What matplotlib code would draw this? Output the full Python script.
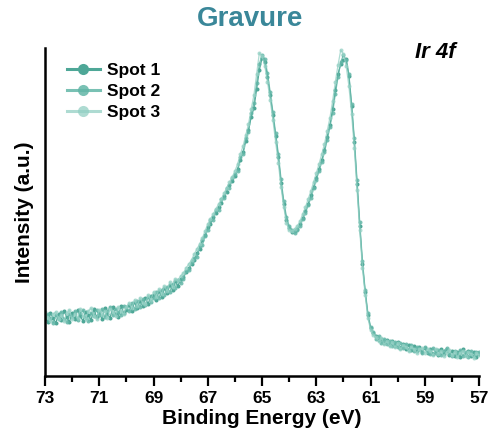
"""
plot.py

Ir 4f XPS spectra (gravure, three spots) redrawn with matplotlib.
Saves the figure as out.png.
"""

import numpy as np
import matplotlib
matplotlib.use("Agg")
import matplotlib.pyplot as plt
from matplotlib.lines import Line2D

plt.rcParams["font.family"] = ["Liberation Sans", "DejaVu Sans"]
plt.rcParams["font.weight"] = "bold"

# binding energy grid, 73.0 -> 57.0 eV in 0.1 eV steps
binding_energy = np.round(np.linspace(73.0, 57.0, 161), 1)

spot1 = [
    60, 54, 63, 58, 53, 62, 56, 65, 59, 54,
    63, 57, 66, 60, 55, 64, 61, 56, 67, 59,
    64, 57, 68, 62, 58, 69, 62, 59, 70, 63,
    66, 71, 65, 74, 68, 75, 70, 78, 72, 80,
    81, 76, 85, 79, 88, 83, 91, 86, 95, 90,
    97, 99, 104, 108, 112, 116, 123, 127, 136, 141,
    149, 152, 159, 163, 169, 173, 180, 184, 191, 195,
    200, 207, 216, 224, 235, 246, 259, 268, 287, 306,
    318, 314, 299, 281, 261, 240, 219, 193, 172, 156,
    148, 144, 145, 147, 152, 158, 165, 172, 181, 189,
    198, 207, 216, 226, 239, 251, 267, 286, 302, 312,
    316, 317, 300, 270, 234, 192, 150, 112, 84, 61,
    48, 43, 40, 36, 37, 33, 36, 31, 35, 30,
    34, 28, 32, 27, 31, 26, 30, 25, 29, 24,
    28, 23, 27, 22, 26, 21, 27, 22, 26, 21,
    25, 20, 24, 19, 27, 21, 25, 20, 24, 19, 22,
]

spot2 = [
    57, 62, 58, 53, 61, 57, 64, 57, 54, 62,
    59, 65, 56, 63, 66, 58, 55, 63, 60, 66,
    61, 67, 59, 65, 69, 61, 67, 64, 61, 70,
    69, 65, 73, 67, 75, 69, 77, 71, 79, 74,
    78, 84, 78, 86, 81, 89, 84, 92, 88, 96,
    93, 97, 105, 106, 114, 118, 119, 130, 131, 140,
    146, 156, 156, 166, 166, 177, 178, 188, 188, 198,
    202, 205, 219, 222, 238, 244, 263, 273, 293, 312,
    321, 317, 303, 284, 264, 243, 222, 197, 175, 159,
    150, 146, 143, 146, 150, 157, 163, 171, 178, 188,
    196, 205, 214, 224, 236, 249, 263, 282, 299, 314,
    321, 316, 302, 272, 238, 196, 154, 115, 86, 63,
    49, 44, 37, 40, 33, 37, 32, 35, 30, 34,
    29, 33, 28, 32, 26, 31, 25, 29, 27, 23,
    29, 24, 22, 28, 23, 26, 21, 25, 28, 22,
    20, 25, 21, 26, 20, 24, 19, 25, 20, 24, 24,
]

spot3 = [
    64, 58, 55, 62, 64, 57, 61, 55, 63, 66,
    57, 62, 58, 67, 60, 57, 65, 68, 60, 57,
    66, 61, 65, 58, 67, 64, 60, 69, 65, 62,
    69, 73, 68, 76, 70, 78, 73, 72, 81, 76,
    84, 79, 87, 82, 90, 85, 94, 89, 97, 96,
    100, 103, 108, 112, 116, 122, 127, 132, 138, 145,
    152, 157, 162, 167, 172, 177, 183, 188, 194, 199,
    205, 212, 222, 230, 241, 252, 267, 281, 302, 323,
    320, 310, 294, 276, 256, 234, 213, 189, 169, 153,
    146, 145, 147, 150, 155, 162, 169, 177, 185, 194,
    203, 212, 222, 232, 245, 258, 275, 294, 311, 326,
    322, 310, 290, 262, 228, 186, 146, 108, 81, 58,
    46, 41, 39, 35, 38, 32, 35, 30, 34, 29,
    33, 27, 31, 29, 25, 29, 27, 23, 27, 28,
    23, 27, 25, 21, 27, 22, 25, 20, 24, 26,
    21, 24, 19, 23, 25, 20, 24, 22, 18, 23, 21,
]

labels = ["Spot 1", "Spot 2", "Spot 3"]
colors = ["#4ea797", "#62b6a7", "#93d0c4"]
alphas = [1.0, 0.85, 0.75]

major_ticks = [73, 71, 69, 67, 65, 63, 61, 59, 57]


def main():
    fig = plt.figure(figsize=(4.9, 4.47), dpi=100)
    ax = fig.add_axes([0.0918, 0.1588, 0.886, 0.7338])

    for series, lab, col, a in zip([spot1, spot2, spot3], labels, colors, alphas):
        ax.plot(binding_energy, series, color=col, alpha=a, lw=0.9,
                marker="o", ms=2.9, mew=0, label=lab)

    ax.set_xlim(73, 57)
    ax.set_ylim(0, 328)
    ax.set_xticks(major_ticks)
    ax.set_xticks(np.arange(72, 57, -2), minor=True)
    ax.set_yticks([])

    for side in ["top", "right"]:
        ax.spines[side].set_visible(False)
    for side in ["left", "bottom"]:
        ax.spines[side].set_linewidth(1.8)

    ax.tick_params(axis="x", which="major", length=7, width=1.6,
                   labelsize=12.5, pad=4)
    ax.tick_params(axis="x", which="minor", length=4.5, width=1.6)

    ax.set_xlabel("Binding Energy (eV)", fontsize=15, fontweight="bold",
                  labelpad=2)
    ax.set_ylabel("Intensity (a.u.)", fontsize=15, fontweight="bold",
                  labelpad=8)

    fig.text(0.51, 0.958, "Gravure", fontsize=20, fontweight="bold",
             color="#3a8799", ha="center", va="center")
    ax.text(0.945, 0.985, "Ir 4f", transform=ax.transAxes, fontsize=16,
            fontweight="bold", fontstyle="italic", ha="right", va="center")

    # legend with bigger markers than the data
    handles = [Line2D([], [], color=c, alpha=a, lw=2.2, marker="o", ms=8,
                      mew=0) for c, a in zip(colors, alphas)]
    ax.legend(handles, labels, loc="upper left", bbox_to_anchor=(0.05, 0.955),
              frameon=False, borderaxespad=0, borderpad=0, handlelength=1.9,
              handletextpad=0.45, labelspacing=0.33,
              prop={"size": 12.5, "weight": "bold"})

    fig.savefig("out.png", dpi=100)
    print("Saved out.png")


if __name__ == "__main__":
    main()
